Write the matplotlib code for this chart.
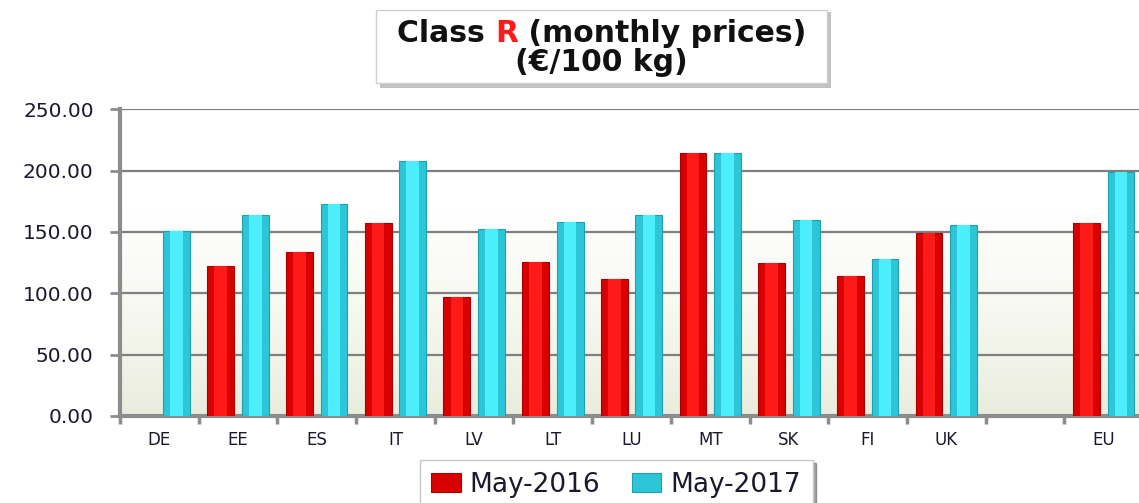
import numpy as np
import matplotlib
matplotlib.use("Agg")
import matplotlib.pyplot as plt
from matplotlib.patches import Rectangle
from matplotlib.colors import LinearSegmentedColormap

countries = ["DE", "EE", "ES", "IT", "LV", "LT", "LU", "MT", "SK", "FI", "UK", "", "EU"]
may_2016 = [np.nan, 122, 133.5, 157, 97, 125.5, 112, 214, 124.5, 114, 149, np.nan, 157]
may_2017 = [150.5, 164, 172.5, 207.5, 152, 158, 164, 214, 160, 128, 155.5, np.nan, 198.5]
yticks = [0, 50, 100, 150, 200, 250]

fig = plt.figure(figsize=(11.39, 5.03), dpi=100)
ax = fig.add_axes([0.1054, 0.173, 0.8981, 0.610])

x = np.arange(len(countries))
v16 = np.array(may_2016, dtype=float)
v17 = np.array(may_2017, dtype=float)

# background gradient, white at top, pale green at the bottom
cmap = LinearSegmentedColormap.from_list("bg", ["#E9EDDD", "#F6F8F0", "#FFFFFF", "#FFFFFF"])
grad = np.linspace(0, 1, 256).reshape(-1, 1)
ax.imshow(grad, extent=[0, 1, 0, 1], transform=ax.transAxes, aspect="auto",
          cmap=cmap, origin="lower", zorder=0)

# bars with a lighter centre strip for a rounded look
b16 = ax.bar(x - 0.22, v16, width=0.34, color="#D80000", edgecolor="#A80000", lw=0.8, zorder=3)
ax.bar(x - 0.22, v16, width=0.16, color="#FF1A1A", lw=0, zorder=4)
b17 = ax.bar(x + 0.22, v17, width=0.34, color="#2CC6D8", edgecolor="#1FA0B0", lw=0.8, zorder=3)
ax.bar(x + 0.22, v17, width=0.16, color="#4CEEFC", lw=0, zorder=4)

ax.set_xlim(-0.5, len(countries) - 0.5)
ax.set_ylim(0, 250)
ax.set_yticks(yticks)
ax.set_yticklabels([f"{v:.2f}" for v in yticks], fontsize=14.5, color="#1A1A2E")
ax.yaxis.grid(True, color="#7F7F7F", lw=1.6, zorder=1)
ax.set_axisbelow(True)

ax.set_xticks(x)
ax.set_xticklabels(countries, fontsize=12, color="#1A1A2E")
ax.set_xticks(np.arange(len(countries) + 1) - 0.5, minor=True)
ax.tick_params(axis="x", which="major", length=0, pad=11)
ax.tick_params(axis="x", which="minor", length=6, width=2.5, color="#8C8C8C", direction="out")
ax.tick_params(axis="y", length=7, width=2, color="#8C8C8C", pad=12)

for s in ["top", "right"]:
    ax.spines[s].set_visible(False)
for s in ["left", "bottom"]:
    ax.spines[s].set_color("#8C8C8C")
    ax.spines[s].set_linewidth(3)

# title box
fig.patches.append(Rectangle((0.334, 0.826), 0.396, 0.150, transform=fig.transFigure,
                             facecolor="#9A9A9A", edgecolor="none", alpha=0.6, zorder=0))
fig.patches.append(Rectangle((0.330, 0.834), 0.396, 0.146, transform=fig.transFigure,
                             facecolor="#FFFFFF", edgecolor="#D0D0D0", lw=1, zorder=1))

fig.canvas.draw()
renderer = fig.canvas.get_renderer()
tprops = dict(fontsize=21.5, fontweight="bold", color="#111111", va="center")
full = fig.text(0.528, 0.934, "Class R (monthly prices)", ha="center", alpha=0, **tprops)
bb = full.get_window_extent(renderer)
x0 = bb.x0 / fig.bbox.width
t1 = fig.text(x0, 0.934, "Class ", ha="left", **tprops)
t2 = fig.text(0, 0, "R", ha="left", **{**tprops, "color": "#FF1A1A"})
t3 = fig.text(0, 0, " (monthly prices)", ha="left", **tprops)
w1 = t1.get_window_extent(renderer).width / fig.bbox.width
w2 = t2.get_window_extent(renderer).width / fig.bbox.width
t2.set_position((x0 + w1, 0.934))
t3.set_position((x0 + w1 + w2, 0.934))
fig.text(0.528, 0.875, "(\u20ac/100 kg)", ha="center", **tprops)

leg = fig.legend([b16, b17], ["May-2016", "May-2017"], loc="upper center",
                 bbox_to_anchor=(0.541, 0.086), borderaxespad=0, ncol=2, fontsize=19,
                 frameon=True, fancybox=False, edgecolor="#C8C8C8", handlelength=1.1,
                 handleheight=0.7, handletextpad=0.35, columnspacing=1.2, borderpad=0.45,
                 shadow=True)
for t in leg.get_texts():
    t.set_color("#1A1A2E")

fig.savefig("out.png", dpi=100)
